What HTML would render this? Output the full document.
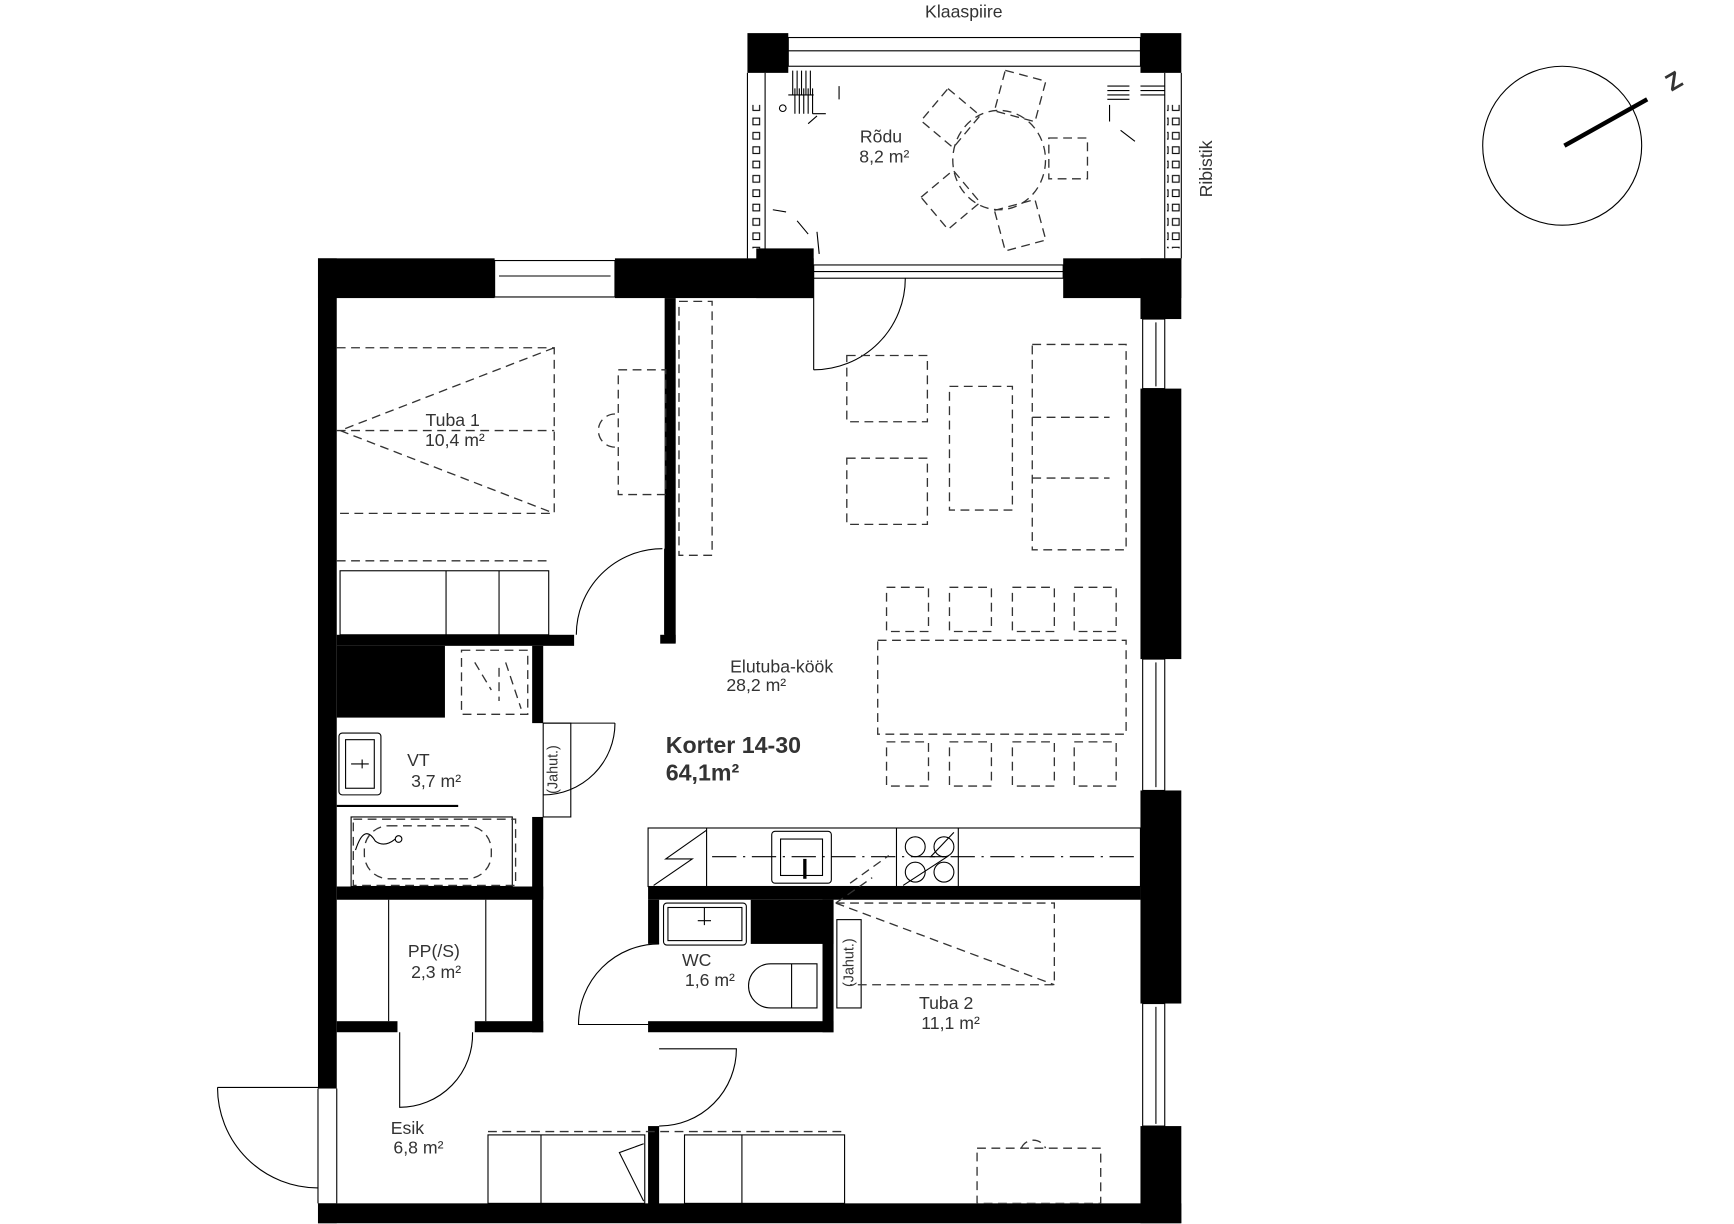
<!DOCTYPE html>
<html><head><meta charset="utf-8"><style>
html,body{margin:0;padding:0;background:#fff;}
svg{display:block;}
text{font-family:"Liberation Sans",sans-serif;fill:#333;}
</style></head><body>
<svg width="1734" height="1224" viewBox="0 0 1570.6 1108.7" xmlns="http://www.w3.org/2000/svg">
<defs>
<pattern id="rail" x="0" y="0" width="10" height="13" patternUnits="userSpaceOnUse">
<rect x="2" y="3" width="6" height="6" fill="none" stroke="#000" stroke-width="1"/>
</pattern>
</defs>
<g fill="#000">
<rect x="677" y="30" width="37" height="36"/>
<rect x="1033" y="30" width="37" height="36"/>
<rect x="288" y="234" width="160" height="36"/>
<rect x="557" y="234" width="180" height="36"/>
<rect x="685" y="225" width="52" height="45"/>
<rect x="963" y="234" width="107" height="36"/>
<rect x="288" y="234" width="17" height="752"/>
<rect x="288" y="1090" width="17" height="18"/>
<rect x="288" y="1090" width="782" height="18"/>
<rect x="1033" y="234" width="37" height="55"/>
<rect x="1033" y="352" width="37" height="245"/>
<rect x="1033" y="716" width="37" height="193"/>
<rect x="1033" y="1020" width="37" height="88"/>
<rect x="602" y="270" width="10" height="312"/>
<rect x="305" y="575" width="215" height="10"/>
<rect x="598" y="575" width="14" height="8"/>
<rect x="305" y="585" width="98" height="65"/>
<rect x="482" y="585" width="10" height="70"/>
<rect x="482" y="740" width="10" height="195"/>
<rect x="305" y="803" width="187" height="12"/>
<rect x="305" y="925" width="55" height="10"/>
<rect x="430" y="925" width="62" height="10"/>
<rect x="587" y="803" width="446" height="12"/>
<rect x="587" y="815" width="10" height="40"/>
<rect x="587" y="925" width="168" height="10"/>
<rect x="745" y="815" width="10" height="120"/>
<rect x="680" y="815" width="75" height="40"/>
<rect x="587" y="1020" width="10" height="80"/>
</g>
<rect x="679" y="95" width="12" height="130" fill="url(#rail)"/>
<rect x="1057" y="95" width="12" height="130" fill="url(#rail)"/>
<g fill="none" stroke="#000" stroke-width="1">
<rect x="714" y="34" width="319" height="26"/>
<line x1="714" y1="46" x2="1033" y2="46"/>
<line x1="693" y1="66" x2="693" y2="234"/><line x1="677" y1="66" x2="677" y2="234"/>
<line x1="1055" y1="66" x2="1055" y2="234"/><line x1="1070" y1="66" x2="1070" y2="234"/>
<path d="M718 64 V86 M722 64 V86 M726 64 V86 M730 64 V86 M734 64 V86 M714 86 H737"/>
<path d="M720 80 V103 M724 80 V103 M728 80 V103 M732 80 V103 M736 80 V103 M736 103 H748"/>
<circle cx="709" cy="98" r="3"/>
<path d="M1003 78 H1023 M1003 82 H1023 M1003 86 H1023 M1003 90 H1023 M1005 95 V110"/>
<path d="M1033 78 H1055 M1033 82 H1055 M1033 86 H1055"/>
<path d="M760 78 L760 90 M740 105 L732 112 M1015 118 L1028 128 M700 190 L712 192 M722 200 L732 212 M740 210 L742 230"/>
<rect x="737" y="240" width="226" height="12"/>
<line x1="737" y1="246" x2="963" y2="246"/>
<line x1="737" y1="252" x2="737" y2="335"/>
<path d="M737 335 A83 83 0 0 0 820 252"/>
<rect x="448" y="236" width="109" height="33"/>
<line x1="452" y1="250" x2="553" y2="250"/>
<rect x="1035" y="289" width="20" height="63"/><line x1="1047" y1="292" x2="1047" y2="350"/>
<rect x="1035" y="597" width="20" height="119"/><line x1="1047" y1="600" x2="1047" y2="713"/>
<rect x="1035" y="909" width="20" height="111"/><line x1="1047" y1="912" x2="1047" y2="1018"/>
<line x1="288" y1="986" x2="288" y2="1090"/><line x1="305" y1="986" x2="305" y2="1090"/>
<path d="M197 985 L288 985 M197 985 A91 91 0 0 0 288 1076"/>
<line x1="602" y1="497" x2="602" y2="575"/>
<path d="M522 575 A78 78 0 0 1 600 497"/>
<rect x="308" y="517" width="189" height="58"/>
<line x1="404" y1="517" x2="404" y2="575"/><line x1="452" y1="517" x2="452" y2="575"/>
<rect x="492" y="655" width="25" height="85"/>
<path d="M492 655 L557 655 M557 655 A65 65 0 0 1 492 720"/>
<rect x="307" y="664" width="38" height="56" rx="3"/><rect x="313" y="670" width="26" height="44"/>
<path d="M318 692 H334 M328 688 V696"/>
<line x1="305" y1="730" x2="415" y2="730" stroke-width="2"/>
<rect x="318" y="740" width="146" height="63"/>
<path d="M322 770 Q330 745 340 762 Q348 768 358 760"/><circle cx="361" cy="760" r="3"/>
<line x1="352" y1="815" x2="352" y2="925"/><line x1="440" y1="815" x2="440" y2="925"/>
<path d="M362 935 L362 1003 A66 66 0 0 0 428 935"/>
<path d="M597 855 A73 73 0 0 0 524 928 L597 928"/>
<rect x="601" y="818" width="75" height="38" rx="3"/><rect x="605" y="822" width="67" height="30"/>
<path d="M638 822 V838 M632 834 H644"/>
<path d="M728 873 L698 873 A20 20 0 0 0 698 913 L740 913 L740 873 Z M717 873 L717 913"/>
<rect x="587" y="750" width="446" height="53"/>
<line x1="640" y1="750" x2="640" y2="803"/><line x1="812" y1="750" x2="812" y2="803"/><line x1="868" y1="750" x2="868" y2="803"/>
<path d="M640 752 L603 778 L627 778 L592 802"/>
<rect x="699" y="753" width="54" height="47" rx="3"/><rect x="707" y="760" width="38" height="33"/>
<path d="M729 778 V796" stroke-width="3"/>
<circle cx="829" cy="767" r="9"/><circle cx="855" cy="767" r="9"/><circle cx="829" cy="790" r="9"/><circle cx="855" cy="790" r="9"/>
<path d="M864 754 L843 776 L858 776 L818 802"/>
<path d="M645 776 H1033" stroke-dasharray="22 6 2 6"/>
<path d="M597 1020 A70 70 0 0 0 667 950 L597 950"/>
<rect x="442" y="1028" width="142" height="62"/><line x1="490" y1="1028" x2="490" y2="1090"/>
<rect x="620" y="1028" width="145" height="62"/><line x1="672" y1="1028" x2="672" y2="1090"/>
<path d="M583 1088 L561 1044 L583 1036"/>
<rect x="758" y="833" width="22" height="80"/>
<circle cx="1415" cy="132" r="72"/>
</g>
<g fill="none" stroke="#333" stroke-width="1.2" stroke-dasharray="8 5">
<path d="M305 315 L502 315 L502 465 L305 465 M305 390 L502 390 M502 315 L308 390 L502 465"/>
<rect x="560" y="335" width="43" height="113"/>
<path d="M557 375 A15 15 0 0 0 557 405"/>
<rect x="615" y="273" width="30" height="230"/>
<line x1="305" y1="508" x2="500" y2="508"/>
<rect x="767" y="322" width="73" height="60"/><rect x="767" y="415" width="73" height="60"/>
<rect x="860" y="350" width="57" height="112"/>
<rect x="935" y="312" width="85" height="186"/>
<line x1="935" y1="378" x2="1005" y2="378"/><line x1="935" y1="433" x2="1005" y2="433"/>
<rect x="795" y="580" width="225" height="85"/>
<rect x="803" y="532" width="38" height="40"/><rect x="860" y="532" width="38" height="40"/><rect x="917" y="532" width="38" height="40"/><rect x="973" y="532" width="38" height="40"/>
<rect x="803" y="672" width="38" height="40"/><rect x="860" y="672" width="38" height="40"/><rect x="917" y="672" width="38" height="40"/><rect x="973" y="672" width="38" height="40"/>
<ellipse cx="905" cy="145" rx="42" ry="45"/>
<rect x="950" y="125" width="35" height="37"/>
<rect x="905" y="68" width="38" height="38" transform="rotate(15 924 87)"/>
<rect x="842" y="88" width="38" height="38" transform="rotate(40 861 107)"/>
<rect x="842" y="162" width="38" height="38" transform="rotate(-40 861 181)"/>
<rect x="905" y="185" width="38" height="38" transform="rotate(-15 924 204)"/>
<rect x="418" y="589" width="60" height="58"/>
<path d="M430 600 L445 625 M458 600 L472 642 M452 605 V635"/>
<rect x="320" y="742" width="147" height="60"/>
<rect x="330" y="748" width="115" height="48" rx="22"/>
<path d="M757 818 L955 818 L955 892 L770 892 M757 818 L955 892"/>
<path d="M757 818 L790 795 M770 800 L805 775"/>
<rect x="885" y="1040" width="112" height="50"/>
<path d="M925 1040 A12 12 0 0 1 947 1040"/>
<line x1="442" y1="1025" x2="765" y2="1025"/>
</g>
<g stroke="#000" stroke-width="4"><line x1="1417" y1="132" x2="1492" y2="90"/></g>
<text x="1510" y="80" font-size="22" font-weight="bold" fill="#000" transform="rotate(-30 1518 74)">Z</text>
<g font-size="16" text-anchor="middle">
<text x="873" y="16">Klaaspiire</text>
<text x="1098" y="153" transform="rotate(-90 1098 153)">Ribistik</text>
<text x="798" y="129">Rõdu</text><text x="801" y="147">8,2 m²</text>
<text x="410" y="386">Tuba 1</text><text x="412" y="404">10,4 m²</text>
<text x="708" y="609">Elutuba-köök</text><text x="685" y="626">28,2 m²</text>
<text x="379" y="694">VT</text><text x="395" y="713">3,7 m²</text>
<text x="393" y="867">PP(/S)</text><text x="395" y="886">2,3 m²</text>
<text x="631" y="875">WC</text><text x="643" y="893">1,6 m²</text>
<text x="857" y="914">Tuba 2</text><text x="861" y="932">11,1 m²</text>
<text x="369" y="1027">Esik</text><text x="379" y="1045">6,8 m²</text>
<text x="505" y="697" transform="rotate(-90 505 697)" font-size="13">(Jahut.)</text>
<text x="773" y="872" transform="rotate(-90 773 872)" font-size="13">(Jahut.)</text>
</g>
<text x="603" y="682" font-size="21" font-weight="bold" fill="#000">Korter 14-30</text>
<text x="603" y="707" font-size="21" font-weight="bold" fill="#000">64,1m²</text>
</svg>
</body></html>
